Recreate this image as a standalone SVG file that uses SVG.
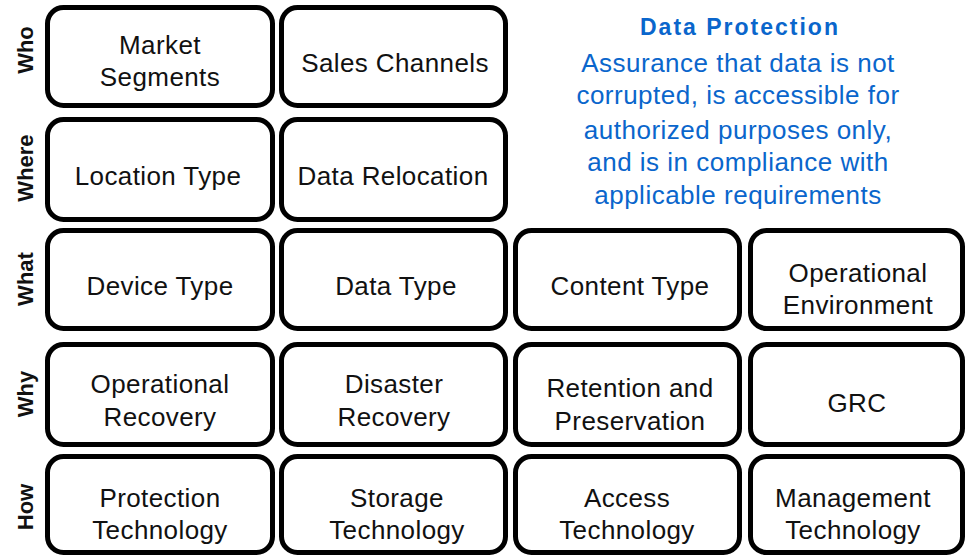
<svg xmlns="http://www.w3.org/2000/svg" width="966" height="556" viewBox="0 0 966 556">
  <style>
    .box rect { fill: #ffffff; stroke: #000000; stroke-width: 5; }
    .box text { font-family: "Liberation Sans", Arial, sans-serif; font-size: 26px; fill: #111111; text-anchor: middle; letter-spacing: 0.4px; }
    .axis text { font-family: "Liberation Sans", Arial, sans-serif; font-size: 22px; font-weight: bold; fill: #111111; text-anchor: middle; }
    .note text { font-family: "Liberation Sans", Arial, sans-serif; fill: #0a66cc; text-anchor: middle; }
    .note .title { font-size: 23px; font-weight: bold; letter-spacing: 2px; }
    .note .body { font-size: 26px; letter-spacing: 0.5px; }
  </style>

  <!-- row axis labels -->
  <g class="axis" id="axis-labels">
    <text transform="translate(33,50) rotate(-90)">Who</text>
    <text transform="translate(33,168) rotate(-90)">Where</text>
    <text transform="translate(33,279) rotate(-90)">What</text>
    <text transform="translate(33,394) rotate(-90)">Why</text>
    <text transform="translate(33,507) rotate(-90)">How</text>
  </g>

  <!-- Who -->
  <g class="box" id="market-segments">
    <rect x="47.5" y="7.5" width="225" height="98" rx="16"/>
    <text x="160" y="54">Market</text>
    <text x="160" y="86">Segments</text>
  </g>
  <g class="box" id="sales-channels">
    <rect x="281.5" y="7.5" width="224" height="98" rx="16"/>
    <text x="395" y="72">Sales Channels</text>
  </g>

  <!-- Where -->
  <g class="box" id="location-type">
    <rect x="47.5" y="119.5" width="225" height="100" rx="16"/>
    <text x="158" y="185">Location Type</text>
  </g>
  <g class="box" id="data-relocation">
    <rect x="281.5" y="119.5" width="224" height="100" rx="16"/>
    <text x="393" y="185">Data Relocation</text>
  </g>

  <!-- What -->
  <g class="box" id="device-type">
    <rect x="47.5" y="230.5" width="225" height="98" rx="16"/>
    <text x="160" y="295">Device Type</text>
  </g>
  <g class="box" id="data-type">
    <rect x="281.5" y="230.5" width="224" height="98" rx="16"/>
    <text x="396" y="295">Data Type</text>
  </g>
  <g class="box" id="content-type">
    <rect x="515.5" y="230.5" width="224" height="98" rx="16"/>
    <text x="630" y="295">Content Type</text>
  </g>
  <g class="box" id="operational-environment">
    <rect x="750.5" y="230.5" width="212" height="98" rx="16"/>
    <text x="858" y="282">Operational</text>
    <text x="858" y="314">Environment</text>
  </g>

  <!-- Why -->
  <g class="box" id="operational-recovery">
    <rect x="47.5" y="344.5" width="225" height="100" rx="16"/>
    <text x="160" y="393">Operational</text>
    <text x="160" y="426">Recovery</text>
  </g>
  <g class="box" id="disaster-recovery">
    <rect x="281.5" y="344.5" width="224" height="100" rx="16"/>
    <text x="394" y="393">Disaster</text>
    <text x="394" y="426">Recovery</text>
  </g>
  <g class="box" id="retention-preservation">
    <rect x="515.5" y="344.5" width="224" height="100" rx="16"/>
    <text x="630" y="397">Retention and</text>
    <text x="630" y="430">Preservation</text>
  </g>
  <g class="box" id="grc">
    <rect x="750.5" y="344.5" width="212" height="100" rx="16"/>
    <text x="857" y="412">GRC</text>
  </g>

  <!-- How -->
  <g class="box" id="protection-technology">
    <rect x="47.5" y="456.5" width="225" height="96" rx="16"/>
    <text x="160" y="507">Protection</text>
    <text x="160" y="539">Technology</text>
  </g>
  <g class="box" id="storage-technology">
    <rect x="281.5" y="456.5" width="224" height="96" rx="16"/>
    <text x="397" y="507">Storage</text>
    <text x="397" y="539">Technology</text>
  </g>
  <g class="box" id="access-technology">
    <rect x="515.5" y="456.5" width="224" height="96" rx="16"/>
    <text x="627" y="507">Access</text>
    <text x="627" y="539">Technology</text>
  </g>
  <g class="box" id="management-technology">
    <rect x="750.5" y="456.5" width="212" height="96" rx="16"/>
    <text x="853" y="507">Management</text>
    <text x="853" y="539">Technology</text>
  </g>

  <!-- definition block -->
  <g class="note" id="data-protection">
    <text class="title" x="740" y="35">Data Protection</text>
    <text class="body" x="738" y="72">Assurance that data is not</text>
    <text class="body" x="738" y="104">corrupted, is accessible for</text>
    <text class="body" x="738" y="139">authorized purposes only,</text>
    <text class="body" x="738" y="171">and is in compliance with</text>
    <text class="body" x="738" y="204">applicable requirements</text>
  </g>

  <!-- no connectors in this chart -->
  <g id="connectors"/>
</svg>
